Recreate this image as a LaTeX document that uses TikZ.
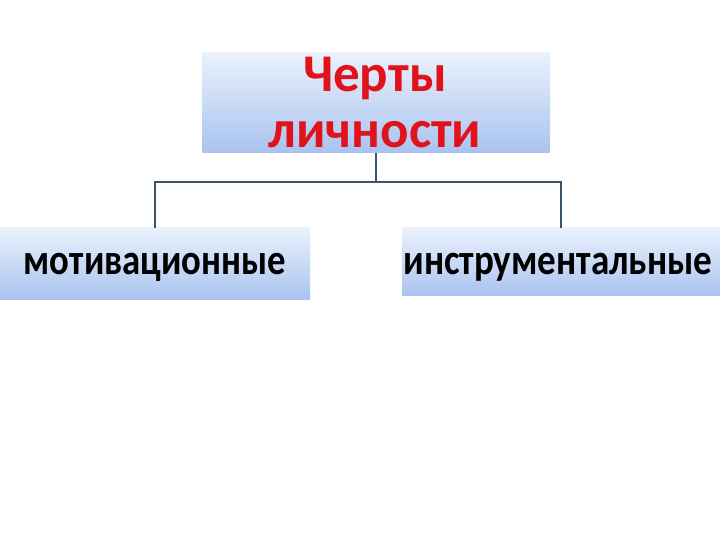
\documentclass[tikz,border=0pt]{standalone}
\usepackage{fontspec}
\setmainfont{Carlito}
\definecolor{boxtop}{HTML}{EAF1FC}
\definecolor{boxbot}{HTML}{A9C3EF}
\definecolor{linec}{HTML}{3F5366}
\definecolor{titlered}{HTML}{E0121B}
\tikzset{
  box/.style={rectangle, inner sep=0pt, top color=boxtop, bottom color=boxbot, draw=none},
  conn/.style={draw=linec, line width=1.8pt},
  lbl/.style={inner sep=0pt, font=\bfseries},
  titlelbl/.style={inner sep=0pt, text=titlered, font=\bfseries\fontsize{53}{60}\selectfont, anchor=base},
  sublbl/.style={inner sep=0pt, font=\bfseries\fontsize{36}{40}\selectfont, anchor=base}
}
\begin{document}
\begin{tikzpicture}[x=1pt,y=1pt]
\useasboundingbox[fill=white] (0,0) rectangle (720,540);
\node[box, minimum width=348pt, minimum height=100pt] (top) at (376,437) {};
\node[box, minimum width=310pt, minimum height=72pt] (left) at (155,276) {};
\node[box, minimum width=318pt, minimum height=68pt] (right) at (561,278) {};
\node[titlelbl] (t1) at (375,448) {Черты};
\node[titlelbl] (t2) at (375,392) {личности};
\node[sublbl] (l1) at (155,265) {\scalebox{1.02}[1.2]{мотивационные}};
\node[sublbl] (r1) at (558,265) {\scalebox{1.03}[1.2]{инструментальные}};
\draw[conn] (top.south) -- ++(0,-29) coordinate (mid) -| (left.north);
\draw[conn] (mid) -| (right.north);
\end{tikzpicture}
\end{document}
